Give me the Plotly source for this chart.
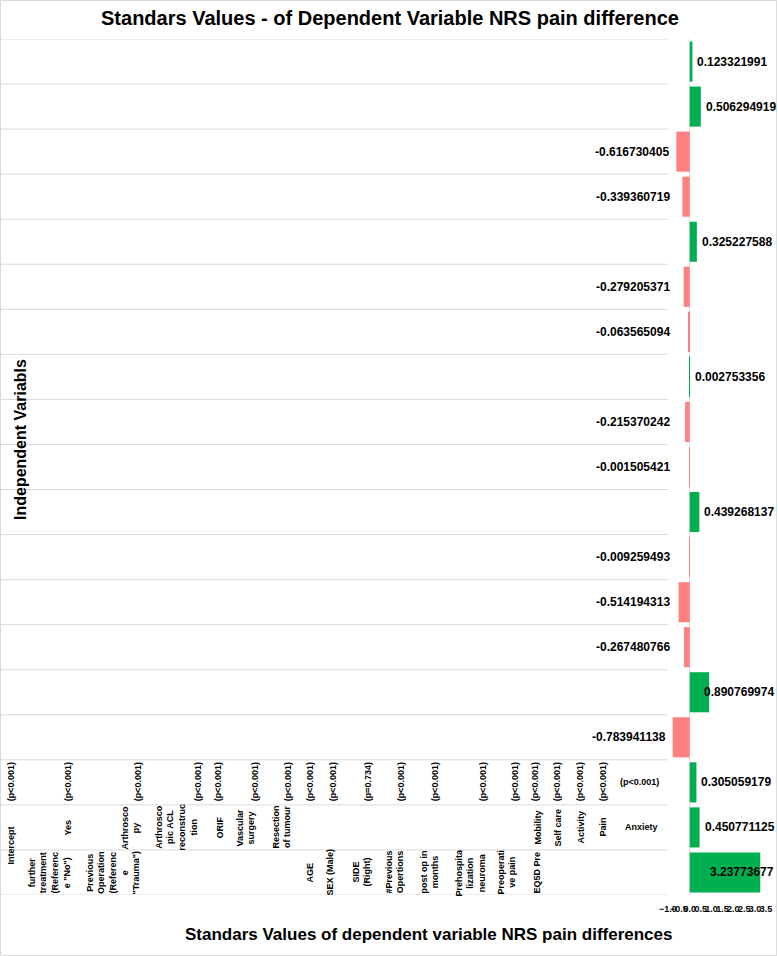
import plotly.graph_objects as go

# ---------------- data ----------------
categories = ["Intercept", "further treatment Yes", "Arthroscopy", "Arthroscopic ACL reconstruction",
              "ORIF", "Vascular surgery", "Resection of tumour", "AGE", "SEX (Male)", "SIDE (Right)",
              "#Previous Opertions", "post op in months", "Prehospitalization neuroma",
              "Preoperative pain", "EQ5D Pre Mobility", "Self care", "Activity", "Pain", "Anxiety"]
values = [3.23773677, 0.450771125, 0.305059179, -0.783941138, 0.890769974, -0.267480766,
          -0.514194313, -0.009259493, 0.439268137, -0.001505421, -0.215370242, 0.002753356,
          -0.063565094, -0.279205371, 0.325227588, -0.339360719, -0.616730405, 0.506294919,
          0.123321991]
p_values = ["(p<0.001)", "(p<0.001)", "(p<0.001)", "(p<0.001)", "(p<0.001)", "(p<0.001)",
            "(p<0.001)", "(p<0.001)", "(p<0.001)", "(p=0.734)", "(p<0.001)", "(p<0.001)",
            "(p<0.001)", "(p<0.001)", "(p<0.001)", "(p<0.001)", "(p<0.001)", "(p<0.001)",
            "(p<0.001)"]
level2_labels = ["Intercept", "Yes", "Arthrosco<br>py", "Arthrosco<br>pic ACL<br>reconstruc<br>tion",
                 "ORIF", "Vascular<br>surgery", "Resection<br>of tumour", "Mobility", "Self care",
                 "Activity", "Pain", "Anxiety"]
level3_labels = ["further<br>treatment<br>(Referenc<br>e \"No\")",
                 "Previous<br>Operation<br>(Referenc<br>e<br>\"Trauma\")", "AGE", "SEX (Male)",
                 "SIDE<br>(Right)", "#Previous<br>Opertions", "post op in<br>months",
                 "Prehospita<br>lization<br>neuroma", "Preoperati<br>ve pain", "EQ5D Pre"]
x_ticks = [-1.0, -0.5, 0.0, 0.5, 1.0, 1.5, 2.0, 2.5, 3.0, 3.5]

# ---------------- layout constants ----------------
W, H = 778, 956
PLOT_L, PLOT_R = 668, 766
TOP, BOT = 39, 895
p_col_px = [11, 68, 138, 198, 218, 255, 288, 310, 333, 368, 401, 435, 483, 515, 535, 557, 580, 603, 639]
level2_px = [11, 68, 131, 176, 220, 246, 282, 538, 558, 581, 603, 641]
level3_px = [49, 113, 310, 330, 362, 395, 430, 470, 507, 537]

FONT = "'Liberation Sans', Arial, sans-serif"
GREEN = "#00B050"
RED = "#FF8080"
GRID = "#D9D9D9"

colors = [GREEN if v >= 0 else RED for v in values]

fig = go.Figure(go.Bar(
    x=values, y=categories, orientation="h",
    marker=dict(color=colors, line=dict(width=0)),
    hoverinfo="x+y",
))

vfont = dict(family=FONT, size=12, color="black", weight="bold")
annotations = []
# value labels (outside end; pinned inside the chart when they would overflow)
for cat, v in zip(categories, values):
    if v >= 0:
        if v > 0.75:
            annotations.append(dict(x=x_ticks[-1], y=cat, xanchor="right", xshift=10))
        else:
            annotations.append(dict(x=v, y=cat, xanchor="left", xshift=3))
    else:
        annotations.append(dict(x=min(v, -0.6), y=cat, xanchor="right", xshift=-5))
    annotations[-1].update(text=str(v), xref="x", yref="y", yanchor="middle",
                           showarrow=False, font=vfont)

tfont = dict(family=FONT, size=9, color="black", weight="bold")


def table_label(txt, px, yy, horiz=False):
    return dict(x=px / W, y=yy, xref="paper", yref="y", text=txt, showarrow=False,
                xanchor="center", yanchor="middle",
                textangle=0 if horiz else -90, font=tfont)


# table row A: p-values
for i, (txt, px) in enumerate(zip(p_values, p_col_px)):
    annotations.append(table_label(txt, px, 2, horiz=(i == len(p_values) - 1)))
# table row B: level 2 labels
for i, (txt, px) in enumerate(zip(level2_labels, level2_px)):
    annotations.append(table_label(txt, px, 0.6 if i == 0 else 1,
                                   horiz=(i == len(level2_labels) - 1)))
# table row C: level 3 labels
for txt, px in zip(level3_labels, level3_px):
    annotations.append(table_label(txt, px, 0))

# axis titles
annotations.append(dict(x=20 / W, y=(BOT - 440) / (BOT - TOP), xref="paper", yref="paper",
                        xanchor="center", yanchor="middle",
                        text="Independent Variabls", textangle=-90, showarrow=False,
                        font=dict(family=FONT, size=16, color="black", weight="bold")))
annotations.append(dict(x=428 / W, y=(BOT - 934) / (BOT - TOP), xref="paper", yref="paper",
                        xanchor="center", yanchor="middle",
                        text="Standars Values of dependent variable NRS pain differences",
                        showarrow=False,
                        font=dict(family=FONT, size=17, color="black", weight="bold")))

# category divider lines across label area
shapes = []
for k in range(len(categories) + 1):
    shapes.append(dict(type="line", xref="paper", yref="y", x0=0, x1=PLOT_L / W,
                       y0=k - 0.5, y1=k - 0.5, line=dict(color=GRID, width=1)))
# chart-area border
PH = BOT - TOP
shapes.append(dict(type="rect", xref="paper", yref="paper",
                   x0=0.5 / W, x1=(W - 1.5) / W,
                   y0=-(H - BOT - 0.5) / PH, y1=1 + (TOP - 0.5) / PH,
                   line=dict(color=GRID, width=1), fillcolor="rgba(0,0,0,0)", layer="below"))

fig.update_layout(
    width=W, height=H, autosize=False,
    margin=dict(l=0, r=0, t=TOP, b=H - BOT, pad=0),
    paper_bgcolor="white", plot_bgcolor="white",
    showlegend=False,
    bargap=0.11,
    title=dict(text="Standars Values - of Dependent Variable NRS pain difference",
               x=390 / W, xanchor="center", xref="container",
               y=1 - 18 / H, yanchor="middle", yref="container",
               font=dict(family=FONT, size=20, color="black", weight="bold")),
    xaxis=dict(domain=[PLOT_L / W, PLOT_R / W], range=[x_ticks[0], x_ticks[-1]],
               tickvals=x_ticks, tickformat=".1f", tickangle=0, automargin=False,
               showgrid=False, zeroline=True, zerolinecolor=GRID, zerolinewidth=1,
               showline=False, ticks="", ticklabelstandoff=7,
               tickfont=dict(family=FONT, size=9, color="black", weight="bold")),
    yaxis=dict(categoryorder="array", categoryarray=categories, range=[-0.5, len(categories) - 0.5],
               automargin=False,
               showticklabels=False, showgrid=False, zeroline=False, showline=False, ticks=""),
    annotations=annotations,
    shapes=shapes,
)

fig.write_html("out.html", config={"displayModeBar": False},
               post_script="document.body.style.margin='0';")
